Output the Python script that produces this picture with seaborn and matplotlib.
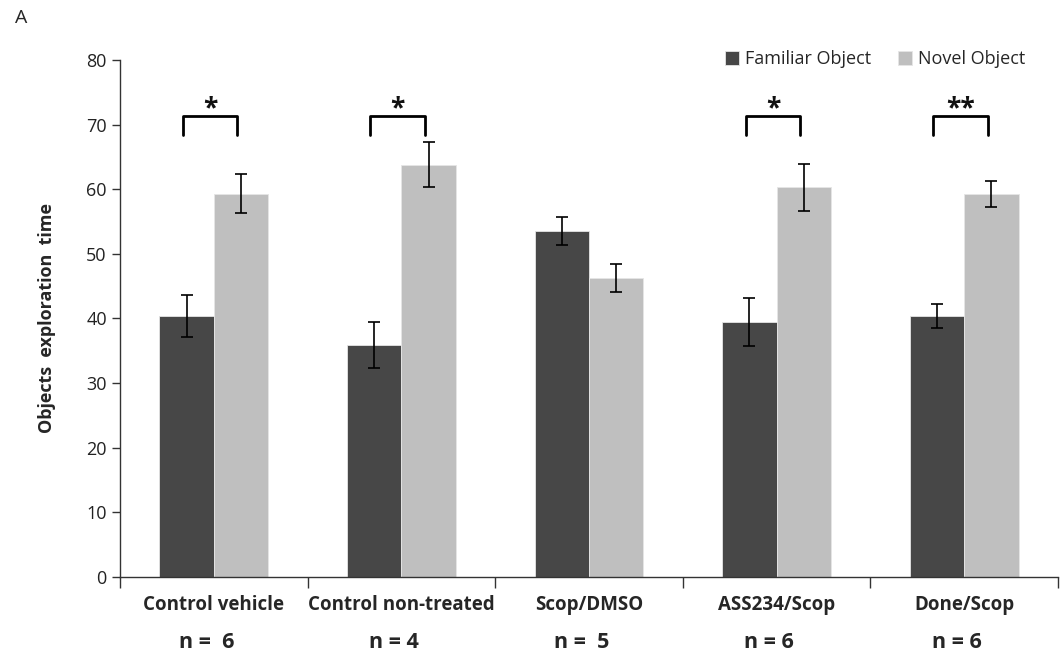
import numpy as np
import pandas as pd
import matplotlib
matplotlib.use('Agg')
import matplotlib.pyplot as plt
import matplotlib.transforms as mtransforms
import seaborn as sns

# data
groups = ['Control vehicle', 'Control non-treated', 'Scop/DMSO', 'ASS234/Scop', 'Done/Scop']
n_labels = ['n =  6', 'n = 4', 'n =  5', 'n = 6', 'n = 6']
familiar = [40.4, 35.9, 53.5, 39.5, 40.4]
familiar_err = [3.2, 3.6, 2.2, 3.7, 1.9]
novel = [59.3, 63.8, 46.3, 60.3, 59.3]
novel_err = [3.0, 3.5, 2.2, 3.6, 2.0]
stars = ['*', '*', '', '*', '**']

df = pd.DataFrame({
    'group': groups * 2,
    'object': ['Familiar Object'] * 5 + ['Novel Object'] * 5,
    'time': familiar + novel,
})

sns.set_style('white')
plt.rcParams['font.family'] = ['Open Sans', 'DejaVu Sans']

fig = plt.figure(figsize=(10.6, 6.59), dpi=100)
ax = fig.add_axes([0.1132, 0.1244, 0.885, 0.7846])

pal = {'Familiar Object': '#474747', 'Novel Object': '#bfbfbf'}
sns.barplot(data=df, x='group', y='time', hue='object', palette=pal,
            width=0.58, saturation=1, errorbar=None, ax=ax,
            edgecolor='#e6e6e6', linewidth=0.6)

# error bars at bar centres
errs = [familiar_err, novel_err]
vals = [familiar, novel]
centres = []
for cont, v, e in zip(ax.containers, vals, errs):
    xs = [b.get_x() + b.get_width() / 2 for b in cont]
    centres.append(xs)
    ax.errorbar(xs, v, yerr=e, fmt='none', ecolor='black', elinewidth=1.2,
                capsize=4, capthick=1.2)

# significance brackets
for i, s in enumerate(stars):
    if not s:
        continue
    x1 = centres[0][i] - 0.02
    x2 = centres[1][i] - 0.02
    ax.plot([x1, x1, x2, x2], [68.4, 71.3, 71.3, 68.4], color='black', lw=2)
    ax.text((x1 + x2) / 2, 70.3, s, ha='center', va='bottom', fontsize=19,
            fontweight='bold', color='#111111')

ax.set_ylim(0, 80)
ax.set_xlim(-0.5, 4.5)
ax.set_yticks(np.arange(0, 81, 10))
ax.tick_params(axis='y', direction='out', length=6, width=1, color='#333333',
               labelsize=13, labelcolor='#222222', left=True)

# category boundaries as ticks, names as minor labels
ax.set_xticks(np.arange(-0.5, 4.6, 1.0))
ax.set_xticklabels([])
ax.tick_params(axis='x', which='major', direction='out', length=8, width=1,
               color='#333333', bottom=True)
ax.set_xticks(range(5), minor=True)
ax.set_xticklabels(groups, minor=True, fontsize=13.5, fontweight='bold',
                   fontstretch='condensed')
ax.tick_params(axis='x', which='minor', length=0, pad=13)
ax.set_xlabel('')

trans = mtransforms.blended_transform_factory(ax.transData, fig.transFigure)
for i, t in enumerate(n_labels):
    ax.text(i - 0.04, 1 - 643 / 659, t, transform=trans, ha='center',
            va='center', fontsize=15.5, fontweight='bold',
            fontstretch='condensed')

ax.set_ylabel('Objects  exploration  time', fontsize=13, fontweight='bold',
              labelpad=22)

for sp in ['top', 'right']:
    ax.spines[sp].set_visible(False)
for sp in ['left', 'bottom']:
    ax.spines[sp].set_color('#333333')
    ax.spines[sp].set_linewidth(1)

leg = ax.legend(loc='upper right', bbox_to_anchor=(0.982, 1.05), ncol=2,
                frameon=False, fontsize=13, handlelength=0.8,
                handleheight=0.8, handletextpad=0.3, columnspacing=1.5)

fig.text(15 / 1060, 1 - 18 / 659, 'A', fontsize=14, va='center')

fig.savefig('out.png', dpi=100)
